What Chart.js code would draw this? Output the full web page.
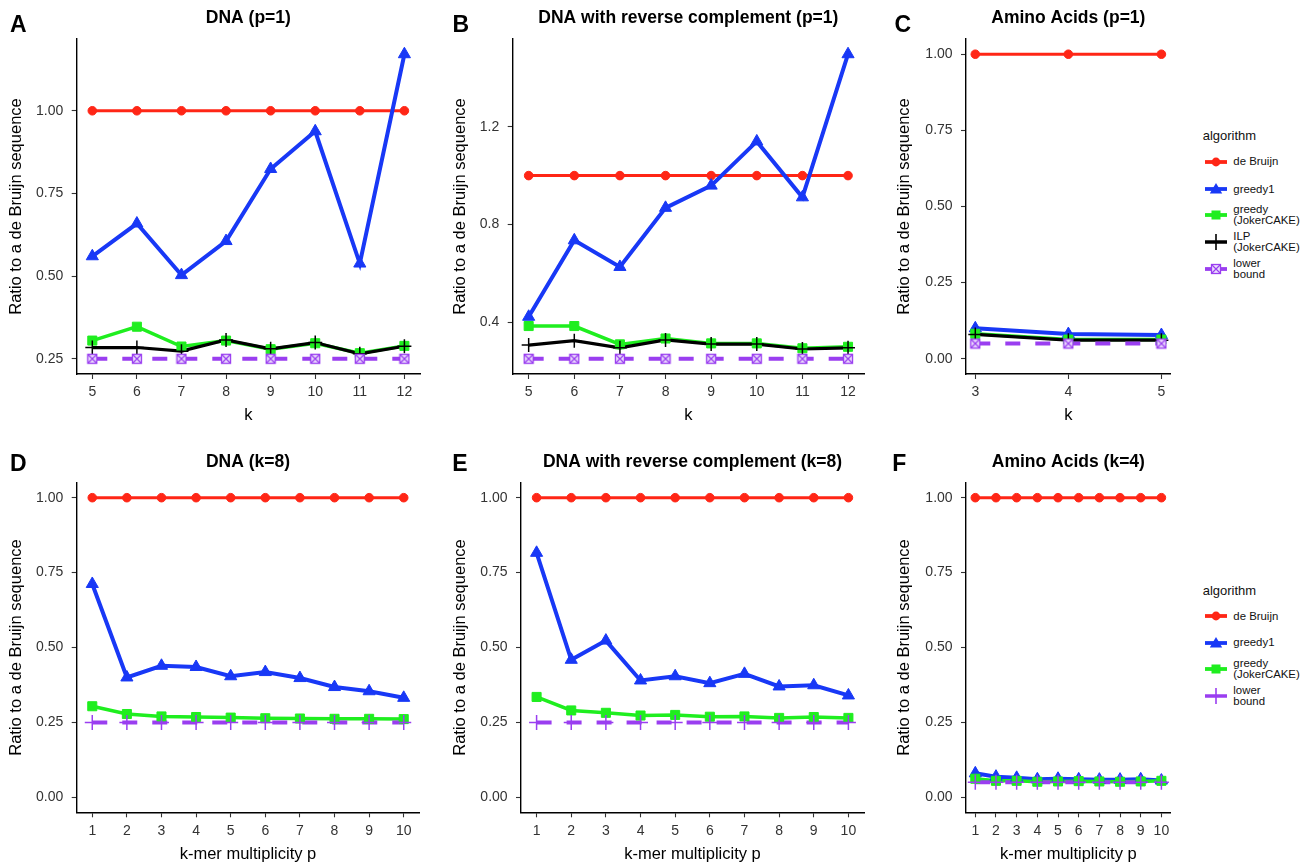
<!DOCTYPE html>
<html><head><meta charset="utf-8">
<script src="https://cdn.jsdelivr.net/npm/chart.js@4.4.1/dist/chart.umd.min.js"></script>
<style>
html,body{margin:0;padding:0;background:#fff;}
body{width:1307px;height:866px;position:relative;overflow:hidden;font-family:'Liberation Sans',Arial,sans-serif;}
canvas{position:absolute;}
.letter{position:absolute;font-weight:bold;font-size:23px;line-height:23px;height:23px;color:#000;}
.lg-title{position:absolute;font-size:13px;line-height:15px;color:#111;}
.lg-item{position:absolute;display:flex;align-items:center;height:26px;}
.lg-item svg{flex:none;}
.lg-item span{font-size:11.4px;line-height:11px;color:#111;margin-left:6px;white-space:nowrap;}
</style></head><body>
<script>
const FONT = "'Liberation Sans', Arial, sans-serif";

// ---------- categories / tick labels ----------
const kDNA = [5, 6, 7, 8, 9, 10, 11, 12];
const kAA = [3, 4, 5];
const pMult = [1, 2, 3, 4, 5, 6, 7, 8, 9, 10];
const yTicksA = [0.25, 0.50, 0.75, 1.00];
const yTicksB = [0.4, 0.8, 1.2];
const yTicksStd = [0.00, 0.25, 0.50, 0.75, 1.00];

// ---------- Panel A: DNA (p=1) ----------
const A_deBruijn = [1, 1, 1, 1, 1, 1, 1, 1];
const A_greedy1  = [0.560, 0.659, 0.503, 0.606, 0.824, 0.938, 0.538, 1.171];
const A_greedyJC = [0.305, 0.347, 0.287, 0.305, 0.279, 0.297, 0.267, 0.289];
const A_ilp      = [0.284, 0.284, 0.273, 0.307, 0.280, 0.299, 0.265, 0.288];
const A_lower    = [0.25, 0.25, 0.25, 0.25, 0.25, 0.25, 0.25, 0.25];

// ---------- Panel B: DNA with reverse complement (p=1) ----------
const B_deBruijn = [1, 1, 1, 1, 1, 1, 1, 1];
const B_greedy1  = [0.422, 0.735, 0.626, 0.868, 0.959, 1.140, 0.911, 1.497];
const B_greedyJC = [0.384, 0.384, 0.309, 0.333, 0.313, 0.313, 0.293, 0.299];
const B_ilp      = [0.306, 0.324, 0.295, 0.327, 0.310, 0.310, 0.290, 0.295];
const B_lower    = [0.25, 0.25, 0.25, 0.25, 0.25, 0.25, 0.25, 0.25];

// ---------- Panel C: Amino Acids (p=1) ----------
const C_deBruijn = [1, 1, 1];
const C_greedy1  = [0.100, 0.081, 0.078];
const C_greedyJC = [0.082, 0.063, 0.063];
const C_ilp      = [0.080, 0.061, 0.061];
const C_lower    = [0.05, 0.05, 0.05];

// ---------- Panel D: DNA (k=8) ----------
const D_deBruijn = [1, 1, 1, 1, 1, 1, 1, 1, 1, 1];
const D_greedy1  = [0.712, 0.400, 0.439, 0.435, 0.404, 0.418, 0.398, 0.368, 0.354, 0.332];
const D_greedyJC = [0.304, 0.278, 0.270, 0.268, 0.266, 0.264, 0.263, 0.262, 0.262, 0.261];
const D_lower    = [0.25, 0.25, 0.25, 0.25, 0.25, 0.25, 0.25, 0.25, 0.25, 0.25];

// ---------- Panel E: DNA with reverse complement (k=8) ----------
const E_deBruijn = [1, 1, 1, 1, 1, 1, 1, 1, 1, 1];
const E_greedy1  = [0.816, 0.459, 0.523, 0.390, 0.404, 0.381, 0.412, 0.370, 0.374, 0.340];
const E_greedyJC = [0.335, 0.290, 0.282, 0.273, 0.275, 0.269, 0.270, 0.265, 0.268, 0.265];
const E_lower    = [0.25, 0.25, 0.25, 0.25, 0.25, 0.25, 0.25, 0.25, 0.25, 0.25];

// ---------- Panel F: Amino Acids (k=4) ----------
const F_deBruijn = [1, 1, 1, 1, 1, 1, 1, 1, 1, 1];
const F_greedy1  = [0.080, 0.069, 0.065, 0.060, 0.062, 0.060, 0.059, 0.059, 0.060, 0.056];
const F_greedyJC = [0.062, 0.055, 0.055, 0.052, 0.053, 0.054, 0.053, 0.052, 0.053, 0.055];
const F_lower    = [0.05, 0.05, 0.05, 0.05, 0.05, 0.05, 0.05, 0.05, 0.05, 0.05];

const legendTop = [['de Bruijn'], ['greedy1'], ['greedy', '(JokerCAKE)'], ['ILP', '(JokerCAKE)'], ['lower', 'bound']];
const legendBottom = [['de Bruijn'], ['greedy1'], ['greedy', '(JokerCAKE)'], ['lower', 'bound']];

// ---------- styles ----------
const RED = '#ff2616', BLUE = '#1838f6', GREEN = '#1fee1f', BLACK = '#000000', PURPLE = '#9a3ef0';

function squareXImage(color) {
  const c = document.createElement('canvas');
  c.width = 12; c.height = 12;
  const g = c.getContext('2d');
  g.fillStyle = '#ecdffc';
  g.fillRect(1.5, 1.5, 9, 9);
  g.strokeStyle = color; g.lineWidth = 1.3;
  g.strokeRect(1.5, 1.5, 9, 9);
  g.beginPath();
  g.moveTo(1.5, 1.5); g.lineTo(10.5, 10.5);
  g.moveTo(10.5, 1.5); g.lineTo(1.5, 10.5);
  g.stroke();
  return c;
}
const SQX = squareXImage(PURPLE);

const ST = {
  deBruijn: {color: RED, lw: 3, ps: 'circle', pr: 4.3, pbw: 1, fill: RED},
  greedy1:  {color: BLUE, lw: 4, ps: 'triangle', pr: 7, pbw: 1, fill: BLUE},
  greedyJC: {color: GREEN, lw: 3.5, ps: 'rect', pr: 6.4, pbw: 1, fill: GREEN},
  ilp:      {color: BLACK, lw: 3.2, ps: 'cross', pr: 7, pbw: 1.5, fill: BLACK},
  lowerSq:  {color: PURPLE, lw: 4, dash: [15, 15], ps: SQX, pr: 6, pbw: 1, fill: PURPLE},
  lowerX:   {color: PURPLE, lw: 4, dash: [15, 15], ps: 'cross', pr: 7.5, pbw: 1.5, fill: PURPLE}
};

function buildDatasets(xs, series) {
  const lines = [], points = [];
  series.forEach((s, i) => {
    const st = ST[s.style];
    const pts = xs.map((x, j) => ({x: x, y: s.data[j]}));
    lines.push({label: s.name, data: pts, borderColor: st.color, backgroundColor: st.color,
      borderWidth: st.lw, borderDash: st.dash || [], pointRadius: 0, pointHoverRadius: 0,
      showLine: true, fill: false, tension: 0, order: 40 - i});
    points.push({label: s.name, data: pts, showLine: false, pointStyle: st.ps, pointRadius: st.pr,
      pointHoverRadius: st.pr, pointBorderWidth: st.pbw, pointBorderColor: st.color,
      pointBackgroundColor: st.fill, order: 20 - i});
  });
  return lines.concat(points);
}

function expand(vals, includeZero) {
  let lo = Math.min(...vals), hi = Math.max(...vals);
  if (includeZero) lo = Math.min(lo, 0);
  const pad = 0.05 * (hi - lo);
  return [lo - pad, hi + pad];
}

function makePanel(p) {
  const cv = document.createElement('canvas');
  cv.width = p.box.w; cv.height = p.box.h;
  cv.style.left = p.box.x + 'px'; cv.style.top = p.box.y + 'px';
  cv.style.width = p.box.w + 'px'; cv.style.height = p.box.h + 'px';
  document.body.appendChild(cv);

  const titleSize = 17.5, titleLH = titleSize * 1.2;
  const axTitleSize = 16.5, axLH = axTitleSize * 1.2;
  const tickSize = 14;
  const tPadTop = p.titleCY - p.box.y - titleLH / 2;
  const tPadBottom = (p.plot.t - p.box.y) - tPadTop - titleLH;
  const yW = p.plot.l - p.box.x;
  const xH = (p.box.y + p.box.h) - p.plot.b;
  const padRight = (p.box.x + p.box.w) - p.plot.r;
  const yTitlePad = p.yTitleCX - p.box.x - axLH / 2;
  const xTitleY = p.xTitleBase - 0.31 * axTitleSize;
  const xTitlePad = (p.box.y + p.box.h) - xTitleY - axLH / 2;

  const allY = [].concat(...p.series.map(s => s.data));
  const yr = expand(allY, p.includeZero);
  const xr = expand(p.xs, false);
  const xs = p.xs, yTicks = p.yTicks, dec = p.yDec;

  const gridOpt = {display: true, drawOnChartArea: false, drawTicks: true, tickLength: 5, tickColor: '#333', tickWidth: 1.1};
  const borderOpt = {display: true, color: '#000', width: 1.4};

  new Chart(cv.getContext('2d'), {
    type: 'line',
    data: {datasets: buildDatasets(p.xs, p.series)},
    options: {
      responsive: false, animation: false, devicePixelRatio: 1, events: [],
      layout: {padding: {left: 0, right: padRight, top: 0, bottom: 0}},
      plugins: {
        legend: {display: false},
        tooltip: {enabled: false},
        title: {display: true, text: p.title, fullSize: false, color: '#000',
          font: {family: FONT, size: titleSize, weight: 'bold'},
          padding: {top: tPadTop, bottom: tPadBottom}}
      },
      scales: {
        x: {
          type: 'linear', min: xr[0], max: xr[1],
          afterBuildTicks: s => { s.ticks = xs.map(v => ({value: v})); },
          afterFit: s => { s.height = xH; },
          ticks: {autoSkip: false, maxRotation: 0, minRotation: 0, padding: 5, color: '#333',
            font: {family: FONT, size: tickSize}, callback: v => String(v)},
          grid: gridOpt, border: borderOpt,
          title: {display: true, text: p.xTitle, color: '#000', font: {family: FONT, size: axTitleSize},
            padding: {top: 0, bottom: xTitlePad}}
        },
        y: {
          type: 'linear', min: yr[0], max: yr[1],
          afterBuildTicks: s => { s.ticks = yTicks.map(v => ({value: v})); },
          afterFit: s => { s.width = yW; },
          ticks: {padding: 8.4, color: '#333', font: {family: FONT, size: tickSize},
            callback: v => Number(v).toFixed(dec)},
          grid: gridOpt, border: borderOpt,
          title: {display: true, text: 'Ratio to a de Bruijn sequence', color: '#000',
            font: {family: FONT, size: axTitleSize}, padding: {top: yTitlePad, bottom: 0}}
        }
      }
    }
  });

  const L = document.createElement('div');
  L.className = 'letter';
  L.textContent = p.letter;
  L.style.left = p.letterPos[0] + 'px';
  L.style.top = p.letterPos[1] + 'px';
  document.body.appendChild(L);
}

function symbolSVG(styleKey) {
  const st = ST[styleKey];
  const c = st.color;
  let s = '<svg width="22" height="16" viewBox="0 0 22 16">';
  if (styleKey === 'ilp' || styleKey === 'lowerX') {
    s += `<line x1="0" y1="8" x2="22" y2="8" stroke="${c}" stroke-width="3.5"/>`;
    s += `<line x1="11" y1="0" x2="11" y2="16" stroke="${c}" stroke-width="1.6"/>`;
  } else {
    s += `<line x1="0" y1="8" x2="22" y2="8" stroke="${c}" stroke-width="3.8"/>`;
    if (styleKey === 'deBruijn') s += `<circle cx="11" cy="8" r="4.4" fill="${c}"/>`;
    if (styleKey === 'greedy1') s += `<polygon points="11,2 17.2,12.5 4.8,12.5" fill="${c}"/>`;
    if (styleKey === 'greedyJC') s += `<rect x="6.5" y="3.5" width="9" height="9" fill="${c}"/>`;
    if (styleKey === 'lowerSq') s += `<rect x="6.5" y="3.5" width="9" height="9" fill="#ecdffc" stroke="${c}" stroke-width="1.3"/><path d="M6.5 3.5 L15.5 12.5 M15.5 3.5 L6.5 12.5" stroke="${c}" stroke-width="1.2"/>`;
  }
  return s + '</svg>';
}

function makeLegend(titleX, titleCY, symX, textX, centers, labels, styles) {
  const t = document.createElement('div');
  t.className = 'lg-title';
  t.textContent = 'algorithm';
  t.style.left = titleX + 'px';
  t.style.top = (titleCY - 7.5) + 'px';
  document.body.appendChild(t);
  labels.forEach((lab, i) => {
    const d = document.createElement('div');
    d.className = 'lg-item';
    d.style.left = symX + 'px';
    d.style.top = (centers[i] - 13) + 'px';
    d.innerHTML = symbolSVG(styles[i]);
    const sp = document.createElement('span');
    sp.style.marginLeft = (textX - symX - 22) + 'px';
    lab.forEach((ln, j) => { if (j) sp.appendChild(document.createElement('br')); sp.appendChild(document.createTextNode(ln)); });
    d.appendChild(sp);
    document.body.appendChild(d);
  });
}

const seriesAC = (db, g1, gj, ilp, lo) => [
  {name: 'de Bruijn', data: db, style: 'deBruijn'},
  {name: 'greedy1', data: g1, style: 'greedy1'},
  {name: 'greedy (JokerCAKE)', data: gj, style: 'greedyJC'},
  {name: 'ILP (JokerCAKE)', data: ilp, style: 'ilp'},
  {name: 'lower bound', data: lo, style: 'lowerSq'}
];
const seriesDF = (db, g1, gj, lo) => [
  {name: 'de Bruijn', data: db, style: 'deBruijn'},
  {name: 'greedy1', data: g1, style: 'greedy1'},
  {name: 'greedy (JokerCAKE)', data: gj, style: 'greedyJC'},
  {name: 'lower bound', data: lo, style: 'lowerX'}
];

const panels = [
  {letter: 'A', letterPos: [10, 12.8], box: {x: 0, y: 0, w: 440, h: 430}, plot: {l: 76.7, t: 39, r: 420, b: 374},
   title: 'DNA (p=1)', titleCY: 18.6, xTitle: 'k', xTitleBase: 420.7, yTitleCX: 16.2,
   xs: kDNA, yTicks: yTicksA, yDec: 2, includeZero: false,
   series: seriesAC(A_deBruijn, A_greedy1, A_greedyJC, A_ilp, A_lower)},
  {letter: 'B', letterPos: [452.5, 12.8], box: {x: 440, y: 0, w: 440, h: 430}, plot: {l: 512.7, t: 39, r: 864, b: 374},
   title: 'DNA with reverse complement (p=1)', titleCY: 18.6, xTitle: 'k', xTitleBase: 420.7, yTitleCX: 460.3,
   xs: kDNA, yTicks: yTicksB, yDec: 1, includeZero: false,
   series: seriesAC(B_deBruijn, B_greedy1, B_greedyJC, B_ilp, B_lower)},
  {letter: 'C', letterPos: [894.5, 12.8], box: {x: 880, y: 0, w: 300, h: 430}, plot: {l: 966, t: 39, r: 1170.7, b: 374},
   title: 'Amino Acids (p=1)', titleCY: 18.6, xTitle: 'k', xTitleBase: 420.7, yTitleCX: 904.3,
   xs: kAA, yTicks: yTicksStd, yDec: 2, includeZero: true,
   series: seriesAC(C_deBruijn, C_greedy1, C_greedyJC, C_ilp, C_lower)},
  {letter: 'D', letterPos: [10, 452.2], box: {x: 0, y: 430, w: 440, h: 436}, plot: {l: 76.7, t: 482.7, r: 419.3, b: 812.3},
   title: 'DNA (k=8)', titleCY: 462.3, xTitle: 'k-mer multiplicity p', xTitleBase: 859.5, yTitleCX: 16.2,
   xs: pMult, yTicks: yTicksStd, yDec: 2, includeZero: true,
   series: seriesDF(D_deBruijn, D_greedy1, D_greedyJC, D_lower)},
  {letter: 'E', letterPos: [452.3, 452.2], box: {x: 440, y: 430, w: 440, h: 436}, plot: {l: 521, t: 482.7, r: 864, b: 812.3},
   title: 'DNA with reverse complement (k=8)', titleCY: 462.3, xTitle: 'k-mer multiplicity p', xTitleBase: 859.5, yTitleCX: 460.3,
   xs: pMult, yTicks: yTicksStd, yDec: 2, includeZero: true,
   series: seriesDF(E_deBruijn, E_greedy1, E_greedyJC, E_lower)},
  {letter: 'F', letterPos: [892.3, 452.2], box: {x: 880, y: 430, w: 300, h: 436}, plot: {l: 966, t: 482.7, r: 1170.7, b: 812.3},
   title: 'Amino Acids (k=4)', titleCY: 462.3, xTitle: 'k-mer multiplicity p', xTitleBase: 859.5, yTitleCX: 904.3,
   xs: pMult, yTicks: yTicksStd, yDec: 2, includeZero: true,
   series: seriesDF(F_deBruijn, F_greedy1, F_greedyJC, F_lower)}
];

panels.forEach(makePanel);

makeLegend(1202.7, 135.7, 1205, 1233.3, [161.7, 189, 215, 241.7, 269.3], legendTop,
  ['deBruijn', 'greedy1', 'greedyJC', 'ilp', 'lowerSq']);
makeLegend(1202.7, 590.7, 1205, 1233.3, [616, 642.7, 669.3, 696], legendBottom,
  ['deBruijn', 'greedy1', 'greedyJC', 'lowerX']);
</script>
</body></html>
